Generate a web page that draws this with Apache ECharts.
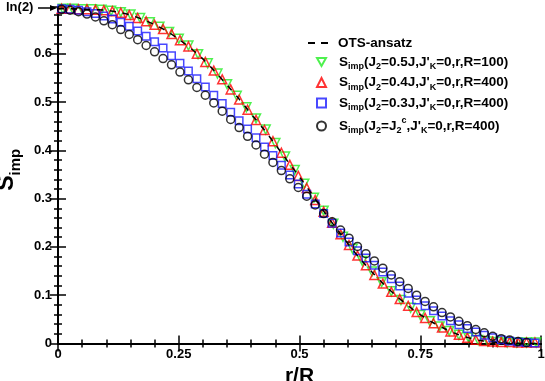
<!DOCTYPE html>
<html>
<head>
<meta charset="utf-8">
<script src="https://cdn.jsdelivr.net/npm/echarts@6/dist/echarts.min.js"></script>
<style>
  html, body { margin: 0; padding: 0; background: #fff; }
  #chart { width: 545px; height: 381px; }
</style>
</head>
<body>
<div id="chart"></div>
<script>
// r/R positions of the R=400 data (every 7th site) and the R=100 data (every 2nd site)
var xs400 = [0.0075, 0.025, 0.0425, 0.06, 0.0775, 0.095, 0.1125, 0.13, 0.1475, 0.165,
  0.1825, 0.2, 0.2175, 0.235, 0.2525, 0.27, 0.2875, 0.305, 0.3225, 0.34,
  0.3575, 0.375, 0.3925, 0.41, 0.4275, 0.445, 0.4625, 0.48, 0.4975, 0.515,
  0.5325, 0.55, 0.5675, 0.585, 0.6025, 0.62, 0.6375, 0.655, 0.6725, 0.69,
  0.7075, 0.725, 0.7425, 0.76, 0.7775, 0.795, 0.8125, 0.83, 0.8475, 0.865,
  0.8825, 0.9, 0.9175, 0.935, 0.9525, 0.97, 0.9875]
var xs100 = [0.01, 0.03, 0.05, 0.07, 0.09, 0.11, 0.13, 0.15, 0.17, 0.19,
  0.21, 0.23, 0.25, 0.27, 0.29, 0.31, 0.33, 0.35, 0.37, 0.39,
  0.41, 0.43, 0.45, 0.47, 0.49, 0.51, 0.53, 0.55, 0.57, 0.59,
  0.61, 0.63, 0.65, 0.67, 0.69, 0.71, 0.73, 0.75, 0.77, 0.79,
  0.81, 0.83, 0.85, 0.87, 0.89, 0.91, 0.93, 0.95, 0.97, 0.99]
var xsOts = [0, 0.025, 0.05, 0.075, 0.1, 0.125, 0.15, 0.175, 0.2, 0.225,
  0.25, 0.275, 0.3, 0.325, 0.35, 0.375, 0.4, 0.425, 0.45, 0.475,
  0.5, 0.525, 0.55, 0.575, 0.6, 0.625, 0.65, 0.675, 0.7, 0.725,
  0.75, 0.775, 0.8, 0.825, 0.85, 0.875, 0.9, 0.925, 0.95, 0.975, 1]

// OTS-ansatz curve
var otsY = [0.6931, 0.693, 0.692, 0.691, 0.690, 0.686, 0.680, 0.671, 0.660, 0.647,
  0.630, 0.611, 0.589, 0.563, 0.535, 0.506, 0.475, 0.445, 0.412, 0.378,
  0.345, 0.310, 0.274, 0.240, 0.207, 0.176, 0.148, 0.122, 0.099, 0.078,
  0.060, 0.044, 0.031, 0.020, 0.012, 0.006, 0.003, 0.001, 0.0003, 0, 0]
// J2=0.5J, R=100
var j05Y = [0.693, 0.693, 0.692, 0.692, 0.691, 0.689, 0.686, 0.681, 0.674, 0.665,
  0.656, 0.645, 0.631, 0.617, 0.599, 0.580, 0.559, 0.537, 0.513, 0.489,
  0.466, 0.443, 0.415, 0.387, 0.359, 0.331, 0.302, 0.275, 0.248, 0.221,
  0.196, 0.171, 0.149, 0.127, 0.108, 0.090, 0.074, 0.059, 0.046, 0.035,
  0.026, 0.018, 0.012, 0.007, 0.004, 0.003, 0.002, 0.002, 0.002, 0.002]
// J2=0.4J, R=400
var j04Y = [0.693, 0.693, 0.692, 0.692, 0.691, 0.690, 0.688, 0.685, 0.680, 0.674,
  0.667, 0.660, 0.651, 0.641, 0.628, 0.615, 0.600, 0.583, 0.565, 0.547,
  0.526, 0.505, 0.484, 0.463, 0.442, 0.419, 0.395, 0.370, 0.347, 0.322,
  0.297, 0.273, 0.250, 0.226, 0.204, 0.182, 0.162, 0.142, 0.124, 0.107,
  0.092, 0.078, 0.065, 0.053, 0.042, 0.033, 0.025, 0.018, 0.012, 0.008,
  0.005, 0.004, 0.003, 0.003, 0.002, 0.002, 0.002]
// J2=0.3J, R=400
var j03Y = [0.693, 0.692, 0.690, 0.687, 0.683, 0.678, 0.672, 0.665, 0.657, 0.647,
  0.636, 0.625, 0.612, 0.596, 0.580, 0.564, 0.548, 0.531, 0.514, 0.497,
  0.479, 0.461, 0.444, 0.426, 0.407, 0.389, 0.369, 0.349, 0.330, 0.309,
  0.289, 0.269, 0.249, 0.229, 0.210, 0.192, 0.177, 0.162, 0.148, 0.134,
  0.119, 0.104, 0.090, 0.078, 0.068, 0.057, 0.047, 0.039, 0.031, 0.024,
  0.017, 0.012, 0.008, 0.005, 0.003, 0.002, 0.001]
// J2=J2c, R=400
var j2cY = [0.692, 0.690, 0.687, 0.682, 0.676, 0.668, 0.660, 0.650, 0.640, 0.629,
  0.617, 0.604, 0.590, 0.577, 0.562, 0.546, 0.530, 0.514, 0.498, 0.481,
  0.464, 0.447, 0.429, 0.411, 0.392, 0.375, 0.358, 0.341, 0.323, 0.305,
  0.287, 0.269, 0.252, 0.235, 0.218, 0.201, 0.186, 0.171, 0.156, 0.142,
  0.128, 0.114, 0.100, 0.087, 0.076, 0.064, 0.055, 0.046, 0.037, 0.029,
  0.022, 0.015, 0.010, 0.007, 0.004, 0.002]

var yTop = 0.6967
var FONT = 'Liberation Sans, Arial, Helvetica, sans-serif'

// legend labels as rich text (subscripts / superscript)
var legendText = {
  'OTS-ansatz': '{g|}{n|OTS-ansatz}',
  'J2=0.5J': '{g|}{n|S}{s|imp}{n|(J}{s|2}{n|=0.5J,J\'}{s|K}{n|=0,r,R=100)}',
  'J2=0.4J': '{g|}{n|S}{s|imp}{n|(J}{s|2}{n|=0.4J,J\'}{s|K}{n|=0,r,R=400)}',
  'J2=0.3J': '{g|}{n|S}{s|imp}{n|(J}{s|2}{n|=0.3J,J\'}{s|K}{n|=0,r,R=400)}',
  'J2=J2c': '{g|}{n|S}{s|imp}{n|(J}{s|2}{n|=J}{s|2}{p|c}{n|,J\'}{s|K}{n|=0,r,R=400)}'
}

function pairs(xs, ys) {
  return ys.map(function (y, i) { return [xs[i], y] })
}

function markers(name, xs, ys, symbol, color, size, rotate) {
  return {
    name: name,
    type: 'scatter',
    data: pairs(xs, ys),
    symbol: symbol,
    symbolSize: size,
    symbolRotate: rotate || 0,
    itemStyle: { color: 'transparent', borderColor: color, borderWidth: 1.5 },
    silent: true,
    animation: false
  }
}

function legendRich(gap) {
  return {
    g: { width: gap },
    n: { fontFamily: FONT, fontWeight: 'bold', fontSize: 13.5, color: '#000', lineHeight: 19, verticalAlign: 'middle' },
    s: { fontFamily: FONT, fontWeight: 'bold', fontSize: 9, color: '#000', lineHeight: 10, verticalAlign: 'bottom' },
    p: { fontFamily: FONT, fontWeight: 'bold', fontSize: 9, color: '#000', lineHeight: 10, verticalAlign: 'top' }
  }
}

var axisCommon = {
  type: 'value',
  axisLine: { show: true, lineStyle: { color: '#000', width: 2 } },
  axisTick: { show: true, inside: true, length: 8, lineStyle: { color: '#000', width: 1.5 } },
  minorTick: { show: true, splitNumber: 5, length: 4, lineStyle: { color: '#000', width: 1.5 } },
  splitLine: { show: false }
}

var chart = echarts.init(document.getElementById('chart'))
chart.setOption({
  animation: false,
  grid: { left: 58, right: 4, top: 7, bottom: 37.5, containLabel: false, outerBoundsMode: 'none' },
  xAxis: [
    Object.assign({}, axisCommon, {
      min: 0, max: 1, interval: 0.25,
      name: 'r/R', nameLocation: 'middle', nameGap: 19,
      nameTextStyle: { fontFamily: FONT, fontWeight: 'bold', fontSize: 21, color: '#000' },
      axisLabel: { margin: 4, fontFamily: FONT, fontWeight: 'bold', fontSize: 13, color: '#000' }
    }),
    Object.assign({}, axisCommon, {
      position: 'top', min: 0, max: 1, interval: 0.25,
      axisLabel: { show: false }
    })
  ],
  yAxis: [
    Object.assign({}, axisCommon, {
      min: 0, max: yTop, interval: 0.1,
      name: '{a|S}{b|imp}', nameLocation: 'middle', nameGap: 20, nameRotate: 90,
      nameTextStyle: {
        padding: [0, 0, 0, 11],
        rich: {
          a: { fontFamily: FONT, fontWeight: 'bold', fontSize: 23, color: '#000', lineHeight: 28, verticalAlign: 'top' },
          b: { fontFamily: FONT, fontWeight: 'bold', fontSize: 15, color: '#000', lineHeight: 16, verticalAlign: 'bottom' }
        }
      },
      axisLabel: { margin: 6, showMaxLabel: false, fontFamily: FONT, fontWeight: 'bold', fontSize: 13, color: '#000' }
    }),
    Object.assign({}, axisCommon, {
      position: 'right', min: 0, max: yTop, interval: 0.1,
      axisLabel: { show: false }
    })
  ],
  legend: [
    {
      orient: 'vertical', left: 303, top: 31,
      itemWidth: 20, itemHeight: 2, selectedMode: false,
      data: [{ name: 'OTS-ansatz', icon: 'path://M0,0H7V2H0Z M13,0H20V2H13Z' }],
      formatter: function (name) { return legendText[name] },
      textStyle: { rich: legendRich(5) }
    },
    {
      orient: 'vertical', left: 311, top: 50,
      itemWidth: 9, itemHeight: 9, itemGap: 4, selectedMode: false,
      data: [
        { name: 'J2=0.5J', icon: 'path://M0,0L10,0L5,9Z' },
        'J2=0.4J', 'J2=0.3J', 'J2=J2c'
      ],
      formatter: function (name) { return legendText[name] },
      textStyle: { rich: legendRich(8) }
    }
  ],
  graphic: [
    { type: 'text', left: 6, top: 1, style: { text: 'ln(2)', font: 'bold 13px ' + FONT, fill: '#000' } },
    { type: 'line', shape: { x1: 38, y1: 8, x2: 52, y2: 8 }, style: { stroke: '#000', lineWidth: 1.5 } },
    { type: 'polygon', shape: { points: [[50, 5], [57, 8], [50, 11]] }, style: { fill: '#000' } }
  ],
  series: [
    {
      name: 'OTS-ansatz',
      type: 'line',
      data: pairs(xsOts, otsY),
      symbol: 'none',
      smooth: 0.3,
      lineStyle: { color: '#000', width: 1.5, type: [6, 7] },
      itemStyle: { color: '#000' },
      z: 3
    },
    markers('J2=0.5J', xs100, j05Y, 'triangle', '#22ee22', 9, 180),
    markers('J2=0.4J', xs400, j04Y, 'triangle', '#ff0000', 9, 0),
    markers('J2=0.3J', xs400, j03Y, 'rect', '#1a1aff', 7.5, 0),
    markers('J2=J2c', xs400, j2cY, 'circle', '#000000', 8, 0)
  ]
})
</script>
</body>
</html>
